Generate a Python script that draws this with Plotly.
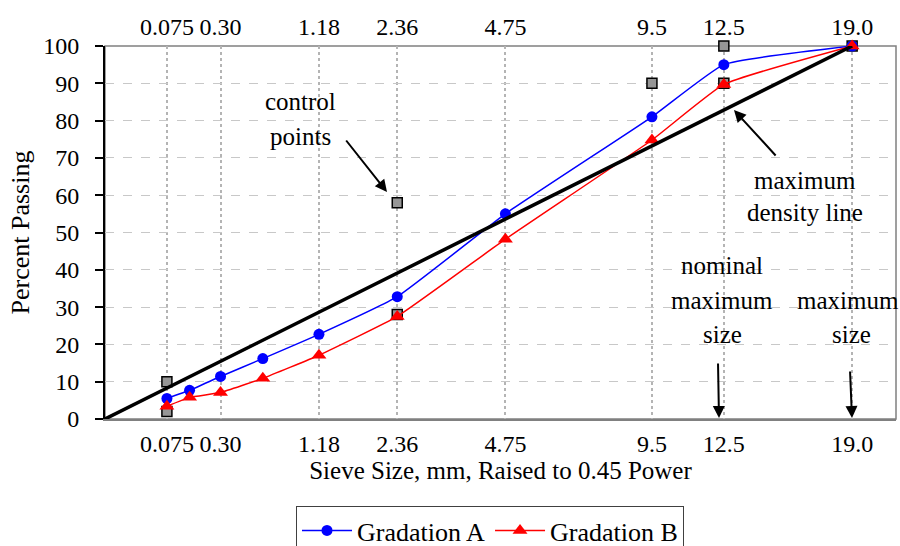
import plotly.graph_objects as go

# ---- data ----
sieve_sizes = [0.075, 0.15, 0.30, 0.60, 1.18, 2.36, 4.75, 9.5, 12.5, 19.0]
gradation_a = [5.5, 7.7, 11.4, 16.2, 22.7, 32.8, 55.0, 81.0, 95.0, 100.0]
gradation_b = [3.4, 5.8, 7.1, 10.9, 17.1, 27.5, 48.2, 74.8, 89.7, 100.0]

control_sizes = [0.075, 0.075, 2.36, 2.36, 9.5, 12.5, 12.5, 19.0]
control_values = [10, 2, 58, 28, 90, 100, 90, 100]

mdl_sizes = [0.0, 19.0]
mdl_values = [0, 100]

tick_sizes = [0.075, 0.30, 1.18, 2.36, 4.75, 9.5, 12.5, 19.0]
tick_labels = ["0.075", "0.30", "1.18", "2.36", "4.75", "9.5", "12.5", "19.0"]

POW = 0.45
def tx(v):
    return [s ** POW for s in v]

FONT = "Liberation Serif, DejaVu Serif, serif"
FS_TICK = 24
FS_XTITLE = 25
FS_YTITLE = 26
FS_ANN = 25
FS_LEG = 26

# layout geometry (pixels)
W, H = 900, 546
L, R, T, B = 105, 896, 46, 419
XMAX = 3.983

def dx(px):
    return (px - L) / (R - L) * XMAX

def dy(py):
    return (B - py) / (B - T) * 100

fig = go.Figure()

fig.add_trace(go.Scatter(x=tx(control_sizes), y=control_values, mode="markers",
                         marker=dict(symbol="square", size=10, color="#969696",
                                     line=dict(color="black", width=1.5)),
                         showlegend=False, cliponaxis=False))
fig.add_trace(go.Scatter(x=tx(sieve_sizes), y=gradation_a, mode="lines+markers",
                         name="Gradation A",
                         line=dict(color="#0000ff", width=1.5, shape="spline", smoothing=0.4),
                         marker=dict(symbol="circle", size=11, color="#0000ff"),
                         cliponaxis=False))
fig.add_trace(go.Scatter(x=tx(sieve_sizes), y=gradation_b, mode="lines+markers",
                         name="Gradation B",
                         line=dict(color="#ff0000", width=1.5, shape="spline", smoothing=0.4),
                         marker=dict(symbol="triangle-up", size=13, color="#ff0000"),
                         cliponaxis=False))
fig.add_trace(go.Scatter(x=tx(mdl_sizes), y=mdl_values, mode="lines",
                         line=dict(color="black", width=3.5), showlegend=False,
                         hoverinfo="skip", cliponaxis=False))
# dummy trace for top axis
fig.add_trace(go.Scatter(x=tx(tick_sizes), y=[None] * len(tick_sizes), xaxis="x2",
                         mode="markers", showlegend=False, hoverinfo="skip"))

tickvals = tx(tick_sizes)

fig.update_layout(
    width=W, height=H,
    margin=dict(l=L, r=W - R, t=T, b=H - B),
    paper_bgcolor="white", plot_bgcolor="white",
    font=dict(family=FONT, size=FS_TICK, color="black"),
    xaxis=dict(range=[0, XMAX], tickvals=tickvals, ticktext=tick_labels,
               showgrid=True, gridcolor="#b4b4b4", griddash="dot", gridwidth=1.5,
               zeroline=False, showline=True, linecolor="#808080", linewidth=1.5,
               ticks="", ticklabelstandoff=2, tickfont=dict(family=FONT, size=FS_TICK),
               title=dict(text="Sieve Size, mm, Raised to 0.45 Power",
                          font=dict(family=FONT, size=FS_XTITLE), standoff=0)),
    xaxis2=dict(range=[0, XMAX], overlaying="x", side="top", tickvals=tickvals,
                ticktext=tick_labels, showgrid=False, zeroline=False, showline=False,
                ticks="", ticklabelstandoff=5, tickfont=dict(family=FONT, size=FS_TICK)),
    yaxis=dict(range=[0, 100], dtick=10, showgrid=True, gridcolor="#c8c8c8",
               griddash="dash", gridwidth=1, zeroline=False, showline=True,
               linecolor="black", linewidth=2, ticks="outside", ticklen=8,
               tickcolor="black", tickwidth=1.5, ticklabelstandoff=11,
               tickfont=dict(family=FONT, size=FS_TICK),
               title=dict(text="Percent Passing", font=dict(family=FONT, size=FS_YTITLE),
                          standoff=6)),
    legend=dict(orientation="h", x=296 / W, xanchor="left", xref="container",
                y=1 - 506 / H, yanchor="top", yref="container",
                bordercolor="#404040", borderwidth=1,
                font=dict(family=FONT, size=FS_LEG),
                itemwidth=50, tracegroupgap=0),
    showlegend=True,
)

# plot frame (top and right gray border)
fig.add_shape(type="rect", xref="paper", yref="paper", x0=0, y0=0, x1=1, y1=1,
              line=dict(color="#808080", width=1.5), layer="below")

# text annotations
texts = [
    ("control", 300, 101), ("points", 300, 136),
    ("maximum", 805, 180), ("density line", 805, 212),
    ("nominal", 722, 265), ("maximum", 722, 300), ("size", 722, 334),
    ("maximum", 848, 300), ("size", 851, 334),
]
for t, px, py in texts:
    fig.add_annotation(x=dx(px), y=dy(py), xref="x", yref="y", text=t,
                       showarrow=False, font=dict(size=FS_ANN, family=FONT),
                       xanchor="center", yanchor="middle")

arrows = [
    ((345, 139), (387, 192)),
    ((777, 157), (734, 110)),
    ((718, 362), (719, 418)),
    ((850, 370), (852, 418)),
]
for (tx0, ty0), (hx, hy) in arrows:
    fig.add_annotation(x=dx(hx), y=dy(hy), xref="x", yref="y",
                       ax=dx(tx0), ay=dy(ty0), axref="x", ayref="y",
                       text="", showarrow=True, arrowhead=2, arrowsize=1.2,
                       arrowwidth=2, arrowcolor="black")

fig.write_html("out.html")
